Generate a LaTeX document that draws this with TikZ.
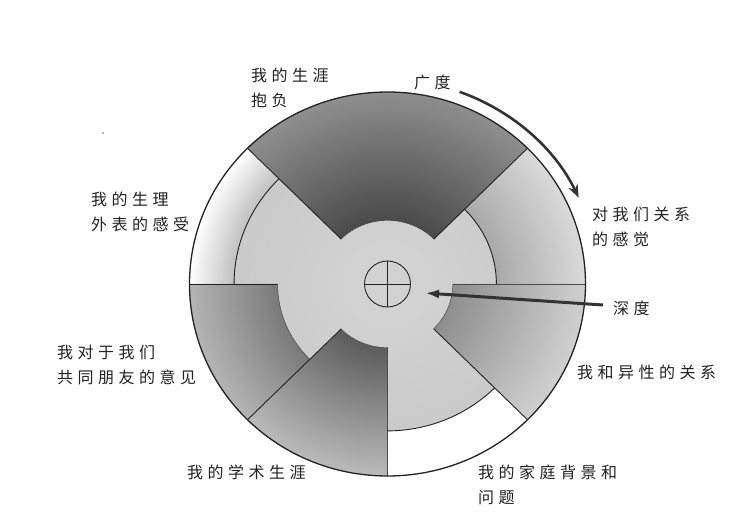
\documentclass[tikz,border=0pt]{standalone}
\usepackage{fontspec}
\newfontfamily\cjk[LetterSpace=28]{Noto Sans CJK SC}
\usetikzlibrary{arrows.meta}
\definecolor{centc}{HTML}{C9C9C9}
\definecolor{centi}{HTML}{D2D2D2}
\definecolor{sAi}{HTML}{A9A9A9}\definecolor{sAo}{HTML}{DADADA}
\definecolor{sBi}{HTML}{4A4A4A}\definecolor{sBo}{HTML}{8E8E8E}
\definecolor{sCi}{HTML}{C0C0C0}\definecolor{sCo}{HTML}{FFFFFF}
\definecolor{sDi}{HTML}{7A7A7A}\definecolor{sDo}{HTML}{B4B4B4}
\definecolor{sEi}{HTML}{5C5C5C}\definecolor{sEo}{HTML}{BABABA}
\definecolor{sGi}{HTML}{8E8E8E}\definecolor{sGo}{HTML}{D0D0D0}
\definecolor{ink}{HTML}{222222}
\pgfdeclareradialshading{shCent}{\pgfpoint{0bp}{0bp}}{color(0bp)=(centi); color(5bp)=(centi); color(20bp)=(centc); color(50bp)=(centc)}
\pgfdeclareradialshading{shA}{\pgfpoint{0bp}{0bp}}{color(0bp)=(sAi); color(13.75bp)=(sAi); color(25bp)=(sAo); color(50bp)=(sAo)}
\pgfdeclareradialshading{shB}{\pgfpoint{0bp}{0bp}}{color(0bp)=(sBi); color(8.25bp)=(sBi); color(25bp)=(sBo); color(50bp)=(sBo)}
\pgfdeclareradialshading{shC}{\pgfpoint{0bp}{0bp}}{color(0bp)=(sCi); color(19.375bp)=(sCi); color(25bp)=(sCo); color(50bp)=(sCo)}
\pgfdeclareradialshading{shD}{\pgfpoint{0bp}{0bp}}{color(0bp)=(sDi); color(13.875bp)=(sDi); color(25bp)=(sDo); color(50bp)=(sDo)}
\pgfdeclareradialshading{shE}{\pgfpoint{0bp}{0bp}}{color(0bp)=(sEi); color(8.25bp)=(sEi); color(25bp)=(sEo); color(50bp)=(sEo)}
\pgfdeclareradialshading{shG}{\pgfpoint{0bp}{0bp}}{color(0bp)=(sGi); color(8.25bp)=(sGi); color(25bp)=(sGo); color(50bp)=(sGo)}
\newcommand{\secpath}[4]{(#1:#3) -- (#1:#4) arc[start angle=#1, end angle=#2, radius=#4] -- (#2:#3) arc[start angle=#2, end angle=#1, radius=#3] -- cycle}
\newcommand{\secshade}[5]{\begin{scope}\clip \secpath{#1}{#2}{#3}{#4};\shade[shading=#5] (0,0) circle (200);\end{scope}}
\begin{document}
\begin{tikzpicture}[x=1pt,y=1pt,
  lbl/.style={font=\cjk\fontsize{16}{25}\selectfont, anchor=north west, inner sep=0pt, align=left, text=ink},
  edgeline/.style={draw=ink, line width=0.9pt},
  softline/.style={draw=black!70, line width=0.5pt},
  rim/.style={draw=ink, line width=1.3pt}]
\useasboundingbox (0,0) rectangle (744,528);
\fill[white] (0,0) rectangle (744,528);
\begin{scope}[shift={(387.5,244)}, xscale=0.99, yscale=0.96]
  % central light region
  \shade[shading=shCent] (0,0) circle (200);
  % sectors
  \secshade{0}{45}{110}{200}{shA}
  \secshade{45}{135}{66}{200}{shB}
  \secshade{135}{180}{155}{200}{shC}
  \secshade{180}{225}{111}{200}{shD}
  \secshade{225}{270}{66}{200}{shE}
  \fill[white] \secpath{270}{315}{153}{200};
  \secshade{315}{360}{66}{200}{shG}
  % boundary lines
  \draw[edgeline] (45:66) -- (45:200);
  \draw[edgeline] (135:66) -- (135:200);
  \draw[edgeline] (180:111) -- (180:200);
  \draw[edgeline] (225:66) -- (225:200);
  \draw[softline] (270:66) -- (270:200);
  \draw[edgeline] (315:66) -- (315:200);
  \draw[softline] (0:66) -- (0:200);
  \draw[edgeline] (0:110) arc[start angle=0, end angle=45, radius=110];
  \draw[edgeline] (135:155) arc[start angle=135, end angle=180, radius=155];
  \draw[edgeline] (270:153) arc[start angle=270, end angle=315, radius=153];
  \draw[softline] (180:111) arc[start angle=180, end angle=225, radius=111];
  \draw[softline] (315:66) arc[start angle=315, end angle=360, radius=66];
  % outer rim
  \draw[rim] (0,0) circle (200);
  % core crosshair
  \node[circle, draw=ink, line width=0.9pt, minimum size=46pt, inner sep=0pt] (core) at (0,0) {};
  \draw[ink, line width=0.8pt] (core.north) -- (core.south);
  \draw[ink, line width=0.8pt] (core.west) -- (core.east);
  % breadth arrow
  \coordinate (bstart) at (70:213);
  \draw[draw=black!80, line width=2.6pt, -{Stealth[length=13pt,width=10pt]}] (bstart) arc[start angle=70, end angle=25, radius=213];
\end{scope}
% depth arrow
\coordinate (dstart) at (603,223);
\coordinate (dend) at (425,235);
\draw[draw=black!80, line width=3pt, -{Latex[length=14pt,width=9pt,fill=black!40]}] (dstart) -- (dend);
% stray speck
\fill[black!60] (103,395) circle (0.8);
% labels
\node[lbl] (career) at (251,460) {我的生涯\\抱负};
\node[lbl] (breadth) at (414,453) {广度};
\node[lbl] (relfeel) at (592,321) {对我们关系\\的感觉};
\node[lbl] (depth) at (613,227.5) {深度};
\node[lbl] (opsex) at (577,163.5) {我和异性的关系};
\node[lbl] (family) at (478,63.5) {我的家庭背景和\\问题};
\node[lbl] (academic) at (187,63.5) {我的学术生涯};
\node[lbl] (friends) at (57,183.5) {我对于我们\\共同朋友的意见};
\node[lbl] (looks) at (91,336.5) {我的生理\\外表的感受};
\end{tikzpicture}
\end{document}
